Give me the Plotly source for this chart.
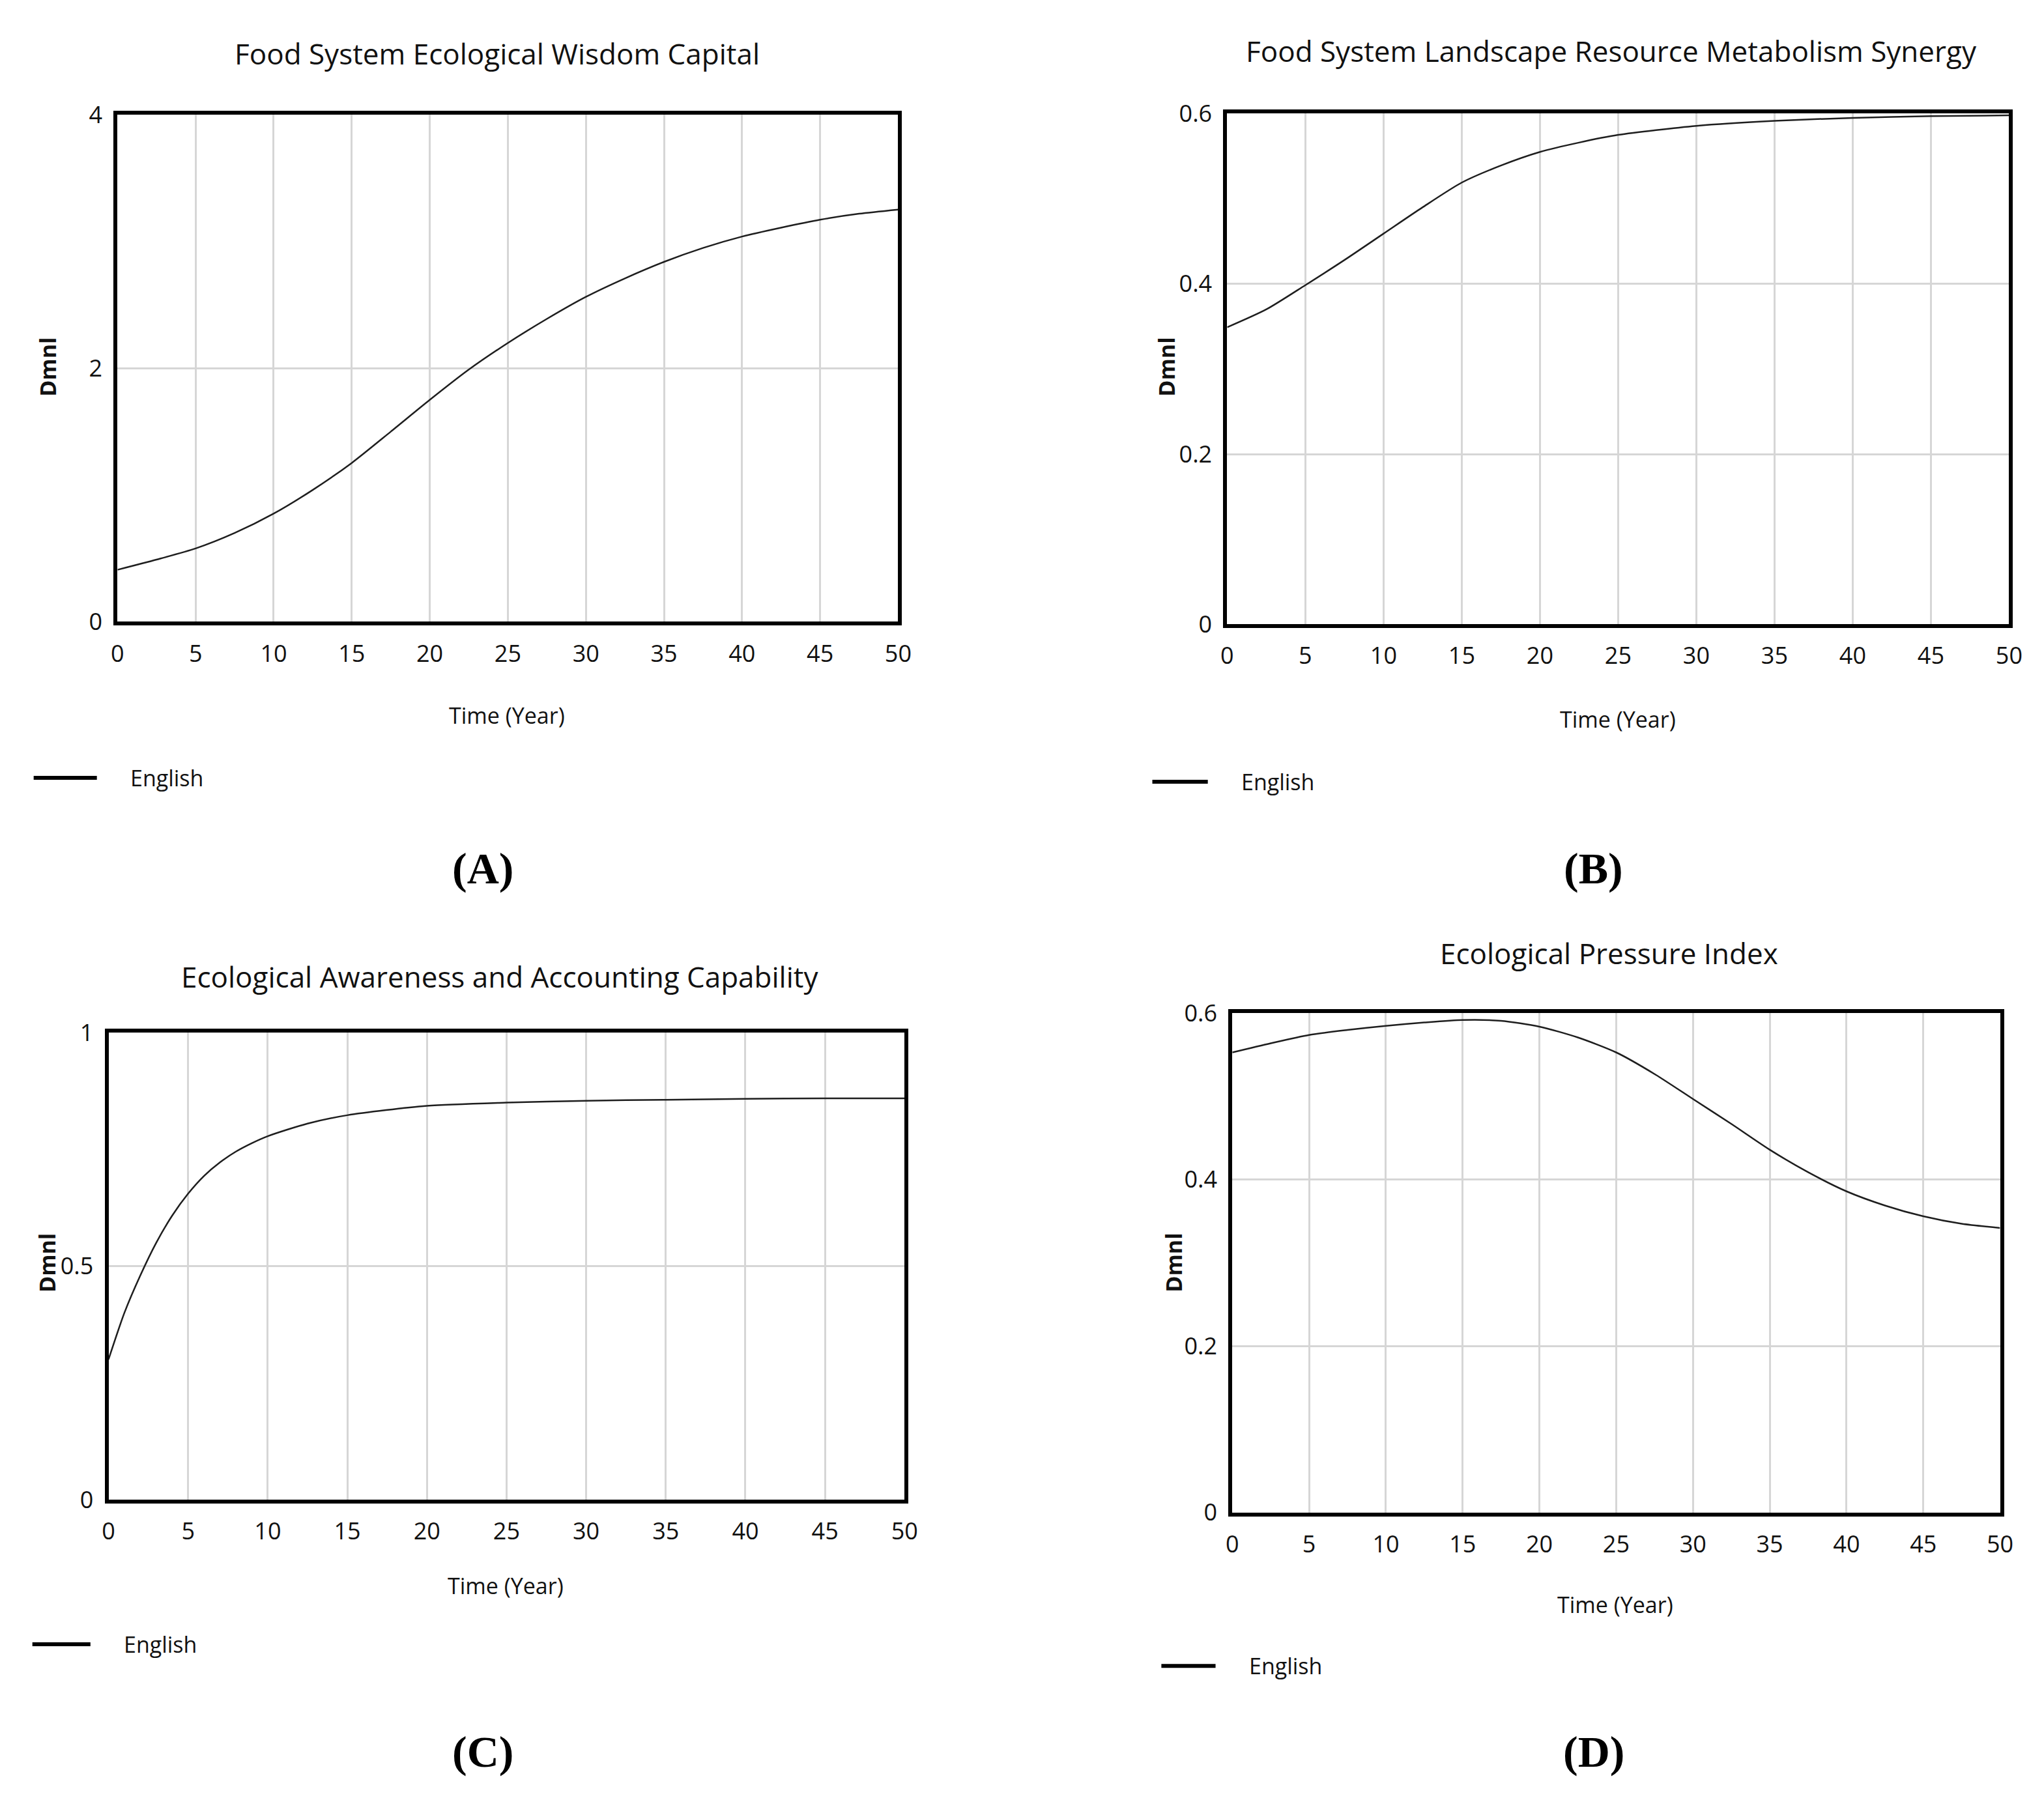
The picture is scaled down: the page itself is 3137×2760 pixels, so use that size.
import plotly.graph_objects as go
from plotly.subplots import make_subplots

W, H = 3137, 2760

t_a = [0, 2.5, 5, 7.5, 10, 12.5, 15, 17.5, 20, 22.5, 25, 27.5, 30, 32.5, 35, 37.5, 40, 42.5, 45, 47.5, 50]
wisdom_capital = [0.41, 0.49, 0.578, 0.70, 0.853, 1.04, 1.253, 1.50, 1.751, 1.99, 2.20, 2.39, 2.564,
                  2.71, 2.84, 2.95, 3.04, 3.11, 3.173, 3.22, 3.253]

t_b = [0, 2.5, 5, 7.5, 10, 12.5, 15, 17.5, 20, 22.5, 25, 30, 35, 40, 45, 50]
metabolism_synergy = [0.349, 0.370, 0.3985, 0.428, 0.459, 0.490, 0.519, 0.539, 0.555, 0.566, 0.575,
                      0.5856, 0.5915, 0.595, 0.597, 0.598]

t_c = [0, 1, 2, 3, 4, 5, 6, 7, 8, 9, 10, 12.5, 15, 20, 25, 30, 35, 40, 45, 50]
accounting_capability = [0.30, 0.40, 0.48, 0.55, 0.608, 0.655, 0.693, 0.722, 0.745, 0.763, 0.778, 0.805,
                         0.823, 0.843, 0.850, 0.854, 0.856, 0.858, 0.859, 0.859]

t_d = [0, 2.5, 5, 7.5, 10, 12.5, 15, 17.5, 20, 22.5, 25, 27.5, 30, 32.5, 35, 37.5, 40, 42.5, 45, 47.5, 50]
pressure_index = [0.553, 0.564, 0.574, 0.580, 0.585, 0.589, 0.592, 0.591, 0.584, 0.571, 0.553, 0.527,
                  0.497, 0.467, 0.436, 0.409, 0.386, 0.369, 0.356, 0.347, 0.342]

titles = ["Food System Ecological Wisdom Capital",
          "Food System Landscape Resource Metabolism Synergy",
          "Ecological Awareness and Accounting Capability",
          "Ecological Pressure Index"]
panel_labels = ["(A)", "(B)", "(C)", "(D)"]
y_ranges = [[0, 4], [0, 0.6], [0, 1], [0, 0.6]]
y_dticks = [2, 0.2, 0.5, 0.2]
series_name = "English"


def px(x):
    return x / W


def py(y):
    return 1 - y / H


# plot-area boxes in pixels: left, right, top, bottom
boxes = [(164, 1374, 146, 938), (1884, 3096, 144, 942),
         (150, 1384, 1580, 2310), (1892, 3082, 1550, 2330)]
title_pos = [(752, 50), (2480, 46), (756, 1492), (2476, 1456)]
xtitle_pos = [(768, 1084), (2490, 1090), (766, 2444), (2486, 2474)]
dmnl_pos = [(56, 540), (1790, 540), (54, 1940), (1800, 1940)]
legend_pos = [(34, 132, 1182), (1768, 1854, 1188), (32, 122, 2536), (1782, 1866, 2570)]
label_pos = [(730, 1324), (2452, 1324), (730, 2704), (2452, 2704)]

xs = [t_a, t_b, t_c, t_d]
ys = [wisdom_capital, metabolism_synergy, accounting_capability, pressure_index]

fig = make_subplots(rows=2, cols=2)

sans = "Open Sans, sans-serif"
annotations = []
shapes = []

for i in range(4):
    r, c = i // 2 + 1, i % 2 + 1
    fig.add_trace(go.Scatter(x=xs[i], y=ys[i], mode="lines", name=series_name,
                             line=dict(color="#1e1e1e", width=2.5, shape="spline", smoothing=0.7),
                             showlegend=False), row=r, col=c)
    left, right, top, bottom = boxes[i]
    axis_style = dict(showline=True, mirror=True, linecolor="black", linewidth=6,
                      showgrid=True, gridcolor="#d6d6d6", gridwidth=3, zeroline=False,
                      ticks="", tickfont=dict(family=sans, size=36, color="#111"))
    fig.update_xaxes(range=[0, 50], dtick=5, domain=[px(left), px(right)],
                     ticklabelstandoff=12, row=r, col=c, **axis_style)
    fig.update_yaxes(range=y_ranges[i], dtick=y_dticks[i], domain=[py(bottom), py(top)],
                     ticklabelstandoff=10, row=r, col=c, **axis_style)

    tx, ty = title_pos[i]
    annotations.append(dict(text=titles[i], x=px(tx), y=py(ty), xref="paper", yref="paper",
                            showarrow=False, xanchor="center", yanchor="middle",
                            font=dict(family=sans, size=44, color="#111")))
    ax, ay = xtitle_pos[i]
    annotations.append(dict(text="Time (Year)", x=px(ax), y=py(ay), xref="paper", yref="paper",
                            showarrow=False, xanchor="center", yanchor="middle",
                            font=dict(family=sans, size=34, color="#111")))
    dx, dy = dmnl_pos[i]
    annotations.append(dict(text="<b>Dmnl</b>", x=px(dx), y=py(dy), xref="paper", yref="paper",
                            showarrow=False, xanchor="center", yanchor="middle", textangle=-90,
                            font=dict(family=sans, size=34, color="#111")))
    lx0, lx1, ly = legend_pos[i]
    shapes.append(dict(type="line", xref="paper", yref="paper", x0=px(lx0), x1=px(lx1),
                       y0=py(ly), y1=py(ly), line=dict(color="black", width=6)))
    annotations.append(dict(text=series_name, x=px(lx1 + 50), y=py(ly), xref="paper", yref="paper",
                            showarrow=False, xanchor="left", yanchor="middle",
                            font=dict(family=sans, size=34, color="#111")))
    pxl, pyl = label_pos[i]
    annotations.append(dict(text="<b>" + panel_labels[i] + "</b>", x=px(pxl), y=py(pyl),
                            xref="paper", yref="paper", showarrow=False,
                            xanchor="center", yanchor="middle",
                            font=dict(family="Liberation Serif, Times New Roman, serif", size=68,
                                      color="black")))

fig.update_layout(width=W, height=H, margin=dict(l=0, r=0, t=0, b=0),
                  paper_bgcolor="white", plot_bgcolor="white",
                  annotations=annotations, shapes=shapes, showlegend=False)

fig.write_html("out.html")
